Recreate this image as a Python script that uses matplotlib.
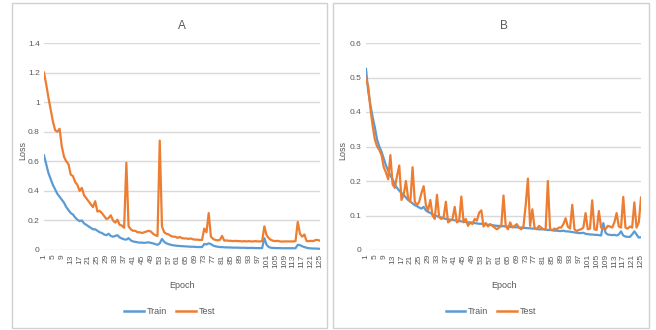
import matplotlib
matplotlib.use("Agg")
import matplotlib.pyplot as plt
from matplotlib.patches import Rectangle
from matplotlib.lines import Line2D

plt.rcParams['font.family'] = ['Liberation Sans Narrow', 'Liberation Sans', 'DejaVu Sans']

epochs = list(range(1, 126))
tick_epochs = list(range(1, 126, 4))

a_train = [0.64, 0.58, 0.52, 0.48, 0.44, 0.41, 0.38, 0.36, 0.34, 0.32,
           0.29, 0.27, 0.25, 0.24, 0.22, 0.205, 0.195, 0.2, 0.18, 0.17,
           0.16, 0.15, 0.14, 0.14, 0.13, 0.12, 0.115, 0.105, 0.1, 0.11,
           0.095, 0.09, 0.095, 0.1, 0.085, 0.078, 0.072, 0.07, 0.08, 0.065,
           0.058, 0.055, 0.052, 0.05, 0.05, 0.048, 0.05, 0.052, 0.048, 0.045,
           0.04, 0.035, 0.045, 0.075, 0.055, 0.045, 0.04, 0.035, 0.032, 0.03,
           0.028, 0.027, 0.026, 0.025, 0.024, 0.023, 0.022, 0.022, 0.021, 0.02,
           0.02, 0.02, 0.04, 0.038, 0.045, 0.04, 0.03, 0.025, 0.022, 0.02,
           0.02, 0.018, 0.018, 0.017, 0.017, 0.016, 0.016, 0.016, 0.015, 0.015,
           0.015, 0.014, 0.014, 0.014, 0.014, 0.013, 0.013, 0.013, 0.013, 0.08,
           0.035, 0.02, 0.015, 0.014, 0.013, 0.013, 0.013, 0.012, 0.012, 0.012,
           0.012, 0.012, 0.012, 0.012, 0.035, 0.033, 0.025, 0.02, 0.015, 0.012,
           0.011, 0.01, 0.01, 0.009, 0.008]
a_test = [1.2, 1.12, 1.03, 0.95, 0.87, 0.81, 0.8, 0.82, 0.7, 0.63,
          0.6, 0.58, 0.51, 0.5, 0.46, 0.44, 0.4, 0.42, 0.37, 0.35,
          0.33, 0.31, 0.29, 0.33, 0.26, 0.265, 0.25, 0.23, 0.21, 0.215,
          0.235, 0.2, 0.185, 0.205, 0.17, 0.165, 0.15, 0.59, 0.16, 0.14,
          0.13, 0.13, 0.12, 0.12, 0.115, 0.12, 0.125, 0.13, 0.125, 0.11,
          0.1, 0.095, 0.74, 0.16, 0.12, 0.11, 0.105, 0.095, 0.09, 0.09,
          0.082, 0.088, 0.08, 0.078, 0.078, 0.075, 0.078, 0.072, 0.07, 0.07,
          0.068, 0.068, 0.145, 0.12, 0.25, 0.09, 0.075, 0.068, 0.065, 0.068,
          0.095, 0.063, 0.065, 0.062, 0.062, 0.06, 0.062, 0.06, 0.06, 0.058,
          0.06, 0.058, 0.06, 0.058, 0.058, 0.06, 0.058, 0.058, 0.06, 0.16,
          0.1, 0.08, 0.068, 0.062, 0.06, 0.062, 0.058, 0.057, 0.058, 0.058,
          0.058, 0.058, 0.058, 0.06, 0.19, 0.11, 0.09, 0.105, 0.06, 0.06,
          0.062, 0.06, 0.068, 0.068, 0.063]

b_train = [0.525, 0.46, 0.42, 0.385, 0.355, 0.32, 0.3, 0.285, 0.265, 0.245,
           0.23, 0.215, 0.205, 0.19, 0.18, 0.172, 0.165, 0.16, 0.152, 0.145,
           0.14, 0.135, 0.13, 0.127, 0.123, 0.12, 0.125, 0.115, 0.11, 0.108,
           0.103, 0.1, 0.098, 0.096, 0.094, 0.092, 0.09, 0.089, 0.088, 0.087,
           0.086, 0.085, 0.084, 0.083, 0.082, 0.081, 0.08, 0.08, 0.079, 0.078,
           0.077, 0.076, 0.076, 0.075, 0.074, 0.073, 0.073, 0.072, 0.071, 0.07,
           0.07, 0.069, 0.069, 0.068, 0.068, 0.067, 0.067, 0.066, 0.066, 0.065,
           0.065, 0.064, 0.064, 0.063, 0.063, 0.062, 0.062, 0.061, 0.06, 0.06,
           0.06, 0.059, 0.058, 0.058, 0.057, 0.056, 0.056, 0.055, 0.055, 0.056,
           0.054, 0.054, 0.053, 0.052, 0.051, 0.05, 0.049, 0.049, 0.05, 0.047,
           0.046, 0.045, 0.045, 0.044, 0.044, 0.043, 0.042, 0.078, 0.05, 0.045,
           0.044, 0.043, 0.044, 0.042, 0.045, 0.054, 0.042, 0.039, 0.038, 0.038,
           0.045, 0.054, 0.045, 0.036, 0.037]
b_test = [0.495, 0.475, 0.41, 0.36, 0.32, 0.3, 0.29, 0.275, 0.24, 0.225,
          0.205, 0.275, 0.19, 0.18, 0.215, 0.245, 0.145, 0.16, 0.2, 0.15,
          0.14, 0.24, 0.14, 0.13, 0.14, 0.165, 0.185, 0.13, 0.115, 0.145,
          0.1, 0.09, 0.16, 0.095, 0.09, 0.095, 0.14, 0.08, 0.085, 0.09,
          0.125, 0.08, 0.085, 0.155, 0.08, 0.09, 0.07, 0.08, 0.075, 0.09,
          0.085, 0.108, 0.115, 0.068, 0.078, 0.068, 0.075, 0.07, 0.065, 0.06,
          0.065, 0.07, 0.158, 0.07, 0.06, 0.08, 0.065, 0.07, 0.075, 0.065,
          0.06, 0.068, 0.13, 0.207, 0.07, 0.118, 0.065, 0.06, 0.07, 0.065,
          0.06, 0.06, 0.2, 0.06, 0.058, 0.062, 0.06, 0.065, 0.065, 0.075,
          0.092, 0.068, 0.062, 0.131, 0.06, 0.055, 0.058, 0.06, 0.065, 0.107,
          0.06, 0.062, 0.144, 0.06, 0.058, 0.113, 0.065, 0.062, 0.06, 0.07,
          0.068, 0.065, 0.08, 0.107, 0.068, 0.065, 0.154, 0.065, 0.062, 0.068,
          0.065, 0.138, 0.065, 0.08, 0.152]

panels = [
    dict(title="A", train=a_train, test=a_test, ymax=1.4,
         yticks=[0, 0.2, 0.4, 0.6, 0.8, 1.0, 1.2, 1.4],
         ylabels=["0", "0.2", "0.4", "0.6", "0.8", "1", "1.2", "1.4"]),
    dict(title="B", train=b_train, test=b_test, ymax=0.6,
         yticks=[0, 0.1, 0.2, 0.3, 0.4, 0.5, 0.6],
         ylabels=["0", "0.1", "0.2", "0.3", "0.4", "0.5", "0.6"]),
]

W, H = 656, 330
fig = plt.figure(figsize=(W / 100, H / 100), dpi=100)
fig.patch.set_facecolor("white")

BLUE = "#5b9bd5"
ORANGE = "#ed7d31"
GRID = "#d9d9d9"
TXT = "#595959"

frames = [(12, 3, 327, 328), (333, 3, 649, 328)]
axes_px = [(44, 43, 320, 250), (366, 43, 641, 250)]
ylabel_x = [27, 347]

for p, fr, ap, ylx in zip(panels, frames, axes_px, ylabel_x):
    x0, y0, x1, y1 = fr
    fig.add_artist(Rectangle((x0 / W, 1 - y1 / H), (x1 - x0) / W, (y1 - y0) / H,
                             transform=fig.transFigure, fill=False,
                             edgecolor="#d0d0d0", linewidth=1.0))
    ax0, ay0, ax1, ay1 = ap
    ax = fig.add_axes([ax0 / W, 1 - ay1 / H, (ax1 - ax0) / W, (ay1 - ay0) / H])
    ax.plot(epochs, p["train"], color=BLUE, lw=1.6, label="Train", solid_joinstyle="round")
    ax.plot(epochs, p["test"], color=ORANGE, lw=1.6, label="Test", solid_joinstyle="round")
    ax.set_xlim(1, 125)
    ax.set_ylim(0, p["ymax"])
    ax.set_yticks(p["yticks"])
    ax.set_yticklabels(p["ylabels"])
    ax.set_xticks(tick_epochs)
    ax.set_xticklabels([str(t) for t in tick_epochs], rotation=90)
    ax.tick_params(axis="both", length=0, labelsize=6, colors=TXT, pad=3)
    ax.grid(axis="y", color=GRID, lw=1.0)
    ax.set_axisbelow(True)
    for s in ax.spines.values():
        s.set_visible(False)
    ax.set_title(p["title"], fontsize=8.5, color=TXT, pad=10)
    ax.set_ylabel("Loss", fontsize=6.5, color=TXT)
    ax.yaxis.set_label_coords((ylx - ax0) / (ax1 - ax0), (250 - 150) / (250 - 43))
    ax.set_xlabel("Epoch", fontsize=6.5, color=TXT, labelpad=9)
    cx = (x0 + x1) / 2
    handles = [Line2D([], [], color=BLUE, lw=1.8), Line2D([], [], color=ORANGE, lw=1.8)]
    fig.legend(handles, ["Train", "Test"], loc="center",
               bbox_to_anchor=(cx / W, 1 - 312 / H), ncol=2, frameon=False,
               fontsize=6.5, labelcolor=TXT, handlelength=2.2, handletextpad=0.3,
               columnspacing=1.0)

fig.savefig("out.png", dpi=100)
